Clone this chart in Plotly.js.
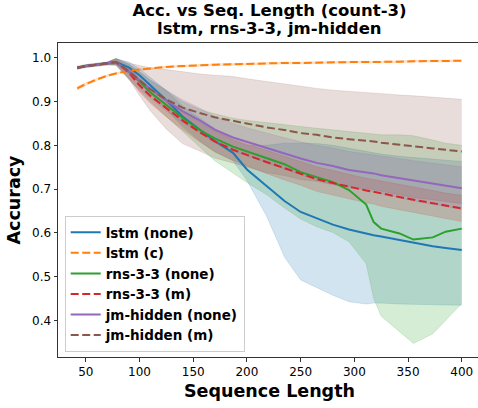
<!DOCTYPE html>
<html>
<head>
<meta charset="utf-8">
<script src="https://cdn.plot.ly/plotly-3.0.1.min.js"></script>
<style>
html,body{margin:0;padding:0;overflow:hidden;background:#fff;}
#chart{width:484px;height:408px;}
</style>
</head>
<body>
<div id="chart"></div>
<script>
// ---- data ----
const seqLen = [42,50,60,70,78,90,100,110,125,140,156,170,187,200,218,235,250,265,280,295,311,318,325,342,355,373,385,400];

const lstmNone   = [0.977,0.981,0.984,0.987,0.990,0.978,0.960,0.937,0.903,0.866,0.836,0.810,0.783,0.745,0.708,0.673,0.648,0.633,0.619,0.608,0.598,0.595,0.592,0.584,0.578,0.570,0.566,0.561];
const lstmNoneHi = [0.980,0.984,0.987,0.990,0.998,0.990,0.975,0.955,0.925,0.890,0.862,0.838,0.812,0.800,0.800,0.805,0.805,0.804,0.800,0.793,0.785,0.782,0.780,0.775,0.772,0.768,0.765,0.763];
const lstmNoneLo = [0.974,0.978,0.981,0.984,0.985,0.965,0.942,0.918,0.882,0.843,0.810,0.785,0.765,0.720,0.640,0.545,0.493,0.476,0.458,0.443,0.438,0.440,0.440,0.438,0.437,0.436,0.435,0.435];

const lstmC   = [0.930,0.940,0.950,0.959,0.964,0.970,0.973,0.976,0.979,0.981,0.983,0.984,0.985,0.986,0.987,0.988,0.988,0.989,0.989,0.990,0.990,0.990,0.991,0.991,0.992,0.992,0.993,0.993];
const lstmCHi = [0.934,0.943,0.952,0.961,0.966,0.972,0.975,0.978,0.981,0.983,0.985,0.986,0.987,0.988,0.989,0.990,0.990,0.991,0.991,0.992,0.992,0.992,0.993,0.993,0.994,0.994,0.995,0.995];
const lstmCLo = [0.926,0.937,0.948,0.957,0.962,0.968,0.971,0.974,0.977,0.979,0.981,0.982,0.983,0.984,0.985,0.986,0.986,0.987,0.987,0.988,0.988,0.988,0.989,0.989,0.990,0.990,0.991,0.991];

const rnsNone   = [0.977,0.981,0.984,0.987,0.990,0.968,0.946,0.921,0.892,0.863,0.835,0.816,0.797,0.786,0.771,0.757,0.739,0.727,0.716,0.698,0.665,0.625,0.610,0.599,0.585,0.590,0.603,0.610];
const rnsNoneHi = [0.980,0.984,0.987,0.990,0.998,0.985,0.968,0.948,0.925,0.900,0.882,0.872,0.862,0.857,0.852,0.848,0.843,0.839,0.835,0.831,0.827,0.825,0.824,0.824,0.822,0.812,0.805,0.800];
const rnsNoneLo = [0.974,0.978,0.981,0.984,0.984,0.950,0.925,0.900,0.866,0.832,0.797,0.765,0.737,0.715,0.688,0.657,0.632,0.614,0.601,0.580,0.530,0.450,0.410,0.376,0.348,0.370,0.400,0.439];

const rnsM   = [0.977,0.981,0.984,0.987,0.990,0.966,0.937,0.913,0.884,0.857,0.830,0.809,0.790,0.778,0.762,0.748,0.736,0.723,0.714,0.705,0.697,0.694,0.690,0.682,0.676,0.668,0.662,0.656];
const rnsMHi = [0.979,0.983,0.986,0.989,0.996,0.978,0.952,0.930,0.903,0.878,0.852,0.832,0.814,0.803,0.788,0.775,0.763,0.751,0.742,0.733,0.725,0.722,0.719,0.711,0.705,0.697,0.691,0.686];
const rnsMLo = [0.975,0.979,0.982,0.985,0.985,0.954,0.922,0.896,0.865,0.836,0.808,0.786,0.766,0.753,0.736,0.721,0.709,0.695,0.686,0.677,0.669,0.666,0.661,0.653,0.647,0.639,0.633,0.626];

const jmNone   = [0.977,0.981,0.984,0.987,0.990,0.968,0.948,0.929,0.902,0.878,0.857,0.836,0.818,0.808,0.794,0.781,0.770,0.760,0.753,0.744,0.739,0.736,0.732,0.725,0.719,0.713,0.708,0.702];
const jmNoneHi = [0.980,0.984,0.987,0.990,0.998,0.985,0.968,0.950,0.926,0.904,0.885,0.866,0.850,0.840,0.828,0.817,0.808,0.800,0.794,0.786,0.781,0.779,0.776,0.770,0.765,0.760,0.756,0.751];
const jmNoneLo = [0.974,0.978,0.981,0.984,0.984,0.952,0.928,0.908,0.878,0.852,0.829,0.806,0.786,0.776,0.760,0.745,0.732,0.720,0.712,0.702,0.697,0.693,0.688,0.680,0.673,0.666,0.660,0.653];

const jmM   = [0.977,0.981,0.984,0.987,0.990,0.970,0.948,0.928,0.905,0.886,0.874,0.864,0.856,0.850,0.841,0.835,0.828,0.824,0.818,0.814,0.811,0.809,0.806,0.801,0.797,0.793,0.790,0.786];
const jmMHi = [0.980,0.984,0.987,0.990,0.998,0.988,0.982,0.977,0.973,0.968,0.963,0.960,0.957,0.952,0.946,0.940,0.934,0.930,0.926,0.923,0.920,0.919,0.917,0.915,0.913,0.910,0.908,0.905];
const jmMLo = [0.974,0.978,0.981,0.984,0.982,0.952,0.914,0.879,0.837,0.804,0.787,0.771,0.760,0.751,0.738,0.731,0.722,0.718,0.710,0.705,0.702,0.699,0.695,0.687,0.681,0.676,0.672,0.667];

const seriesNames = ['lstm (none)','lstm (c)','rns-3-3 (none)','rns-3-3 (m)','jm-hidden (none)','jm-hidden (m)'];
const xTicks = [50,100,150,200,250,300,350,400];
const yTicks = [0.4,0.5,0.6,0.7,0.8,0.9,1.0];

// ---- styling ----
const rgb = ['31,119,180','255,127,14','44,160,44','214,39,40','148,103,189','140,86,75'];
const dashes = ['solid','8px,3.5px','solid','8px,3.5px','solid','8px,3.5px'];
const means = [lstmNone,lstmC,rnsNone,rnsM,jmNone,jmM];
const his = [lstmNoneHi,lstmCHi,rnsNoneHi,rnsMHi,jmNoneHi,jmMHi];
const los = [lstmNoneLo,lstmCLo,rnsNoneLo,rnsMLo,jmNoneLo,jmMLo];
const FONT = 'DejaVu Sans, Verdana, sans-serif';

const traces = [];
for (let i = 0; i < 6; i++) {
  const c = 'rgba(' + rgb[i] + ',0.2)';
  traces.push({x: seqLen, y: his[i], mode: 'lines', line: {color: c, width: 0.8},
               showlegend: false, hoverinfo: 'skip'});
  traces.push({x: seqLen, y: los[i], mode: 'lines', line: {color: c, width: 0.8},
               fill: 'tonexty', fillcolor: c, showlegend: false, hoverinfo: 'skip'});
}
for (let i = 0; i < 6; i++) {
  traces.push({x: seqLen, y: means[i], mode: 'lines', name: seriesNames[i],
               line: {color: 'rgb(' + rgb[i] + ')', width: 2, dash: dashes[i]}});
}

const plotH = 408 - 43 - 51;
const layout = {
  width: 484, height: 408,
  margin: {l: 58.3, r: 3, t: 43, b: 51, pad: 0},
  paper_bgcolor: '#fff', plot_bgcolor: '#fff',
  font: {family: FONT, color: '#000'},
  title: {text: 'Acc. vs Seq. Length (count-3)', font: {family: FONT, size: 16.5, weight: 'bold', color: '#000'},
          x: 0.5, xref: 'paper', xanchor: 'center', y: 1 - 10.5 / 408, yref: 'container', yanchor: 'middle'},
  annotations: [{text: 'lstm, rns-3-3, jm-hidden', xref: 'paper', yref: 'paper', x: 0.5, xanchor: 'center',
                 y: (357 - 28.5) / plotH, yanchor: 'middle', showarrow: false,
                 font: {family: FONT, size: 16.5, weight: 'bold', color: '#000'}}],
  xaxis: {range: [24.1, 417.9], tickvals: xTicks, ticks: 'outside', ticklen: 3.5, tickwidth: 1, tickcolor: '#333',
          showline: true, linecolor: '#333', linewidth: 1, mirror: true, showgrid: false, zeroline: false,
          tickfont: {family: FONT, size: 12, color: '#000'},
          title: {text: 'Sequence Length', font: {family: FONT, size: 17.5, weight: 'bold', color: '#000'}, standoff: 6}},
  yaxis: {range: [0.317, 1.0336], tickvals: yTicks, tickformat: '.1f', ticks: 'outside', ticklen: 3.5, tickwidth: 1, tickcolor: '#333',
          showline: true, linecolor: '#333', linewidth: 1, mirror: true, showgrid: false, zeroline: false,
          tickfont: {family: FONT, size: 12, color: '#000'},
          title: {text: 'Accuracy', font: {family: FONT, size: 17.5, weight: 'bold', color: '#000'}, standoff: 6}},
  legend: {x: (65 - 58.3) / 422.7, y: (357 - 352) / plotH, xanchor: 'left', yanchor: 'bottom', traceorder: 'normal',
           bgcolor: 'rgba(255,255,255,0.8)', bordercolor: '#cccccc', borderwidth: 1,
           font: {family: FONT, size: 13.5, weight: 'bold', color: '#000'}, tracegroupgap: 0},
  showlegend: true
};

Plotly.newPlot('chart', traces, layout, {staticPlot: true, displayModeBar: false});
</script>
</body>
</html>
